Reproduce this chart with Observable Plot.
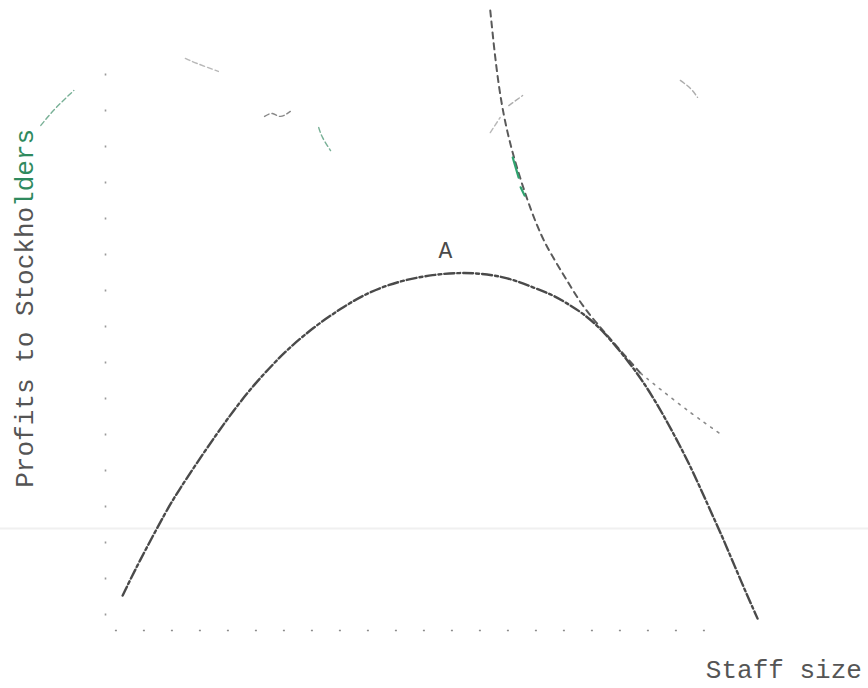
<!DOCTYPE html>
<html>
<head>
<meta charset="utf-8">
<script src="https://cdn.jsdelivr.net/npm/d3@7"></script>
<script src="https://cdn.jsdelivr.net/npm/@observablehq/plot@0.6"></script>
<style>
  html, body { margin: 0; padding: 0; background: #ffffff; }
  #chart svg { display: block; }
</style>
</head>
<body>
<div id="chart"></div>
<script>
// Profit curve (staff size vs profits to stockholders)
const profitStaff = [2.6, 4.8, 9.4, 11.1, 13.9, 16.7, 19.4, 22.4, 25.5, 27.7, 31.5, 35.6, 39.7, 44.7, 49.7, 53.8, 56.8, 60.9, 64.8, 67.9, 69.7, 72.4, 75.5, 79.5, 82.6, 86.1, 89.1, 92.1, 93.2, 96.7, 98.8];
const profitValue = [9.7, 18.1, 33.9, 38.9, 46.7, 54.2, 61.1, 68.1, 74.2, 78.3, 84.2, 89.4, 93.9, 97.2, 98.9, 99.4, 99.2, 98.1, 95.3, 93.1, 91.1, 88.1, 83.1, 74.2, 66.1, 54.7, 43.9, 31.4, 27.2, 11.9, 3.3];

// Tangent (indifference) curve; the part after the tangency is fainter
const tangentStaff = [58.3, 59.7, 62.0, 65.5, 67.9, 70.2, 72.4, 75.5, 78.0, 81.1];
const tangentValue = [172.2, 147.2, 129.7, 111.1, 103.3, 96.4, 89.7, 83.1, 77.8, 71.4];
const tailStaff    = [81.1, 86.7, 90.9, 93.5];
const tailValue    = [71.4, 63.1, 57.5, 54.2];

// green-tinted pieces of the tangent curve
const greenStaff   = [61.7, 62.6];
const greenValue   = [131.4, 125.8];
const green2Staff  = [62.9, 63.5];
const green2Value  = [123.1, 120.8];

// faint remnants of other strokes in the scan
const fragments = [
  {id: "f1", color: "#3f8f6a", staff: [-9.8, -7.6, -4.8], value: [140.3, 145.0, 150.0]},
  {id: "f2", color: "#9a9a9a", staff: [12.1, 13.9, 17.1], value: [158.9, 157.5, 155.3]},
  {id: "f3", color: "#555555", staff: [24.1, 25.3, 26.5, 28.0], value: [142.8, 143.6, 142.8, 144.2]},
  {id: "f4", color: "#3f8f6a", staff: [32.3, 32.9, 34.1], value: [139.7, 136.9, 133.3]},
  {id: "f5", color: "#8a8a8a", staff: [87.1, 88.6, 89.7], value: [152.8, 150.6, 148.1]},
  {id: "f6", color: "#8a8a8a", staff: [61.1, 63.2], value: [145.8, 148.6]},
  {id: "f7", color: "#9a9a9a", staff: [58.3, 59.8], value: [138.3, 142.5]}
];

// text
const peakLabel = "A";
const xLabel = "Staff size";
const yLabel = "Profits to Stockholders";

const zip = (xs, ys) => xs.map((x, i) => ({x, y: ys[i]}));
const profit = zip(profitStaff, profitValue);
const tangent = zip(tangentStaff, tangentValue);
const tail = zip(tailStaff, tailValue);
const fragRows = fragments.flatMap(f => f.staff.map((x, i) => ({id: f.id, color: f.color, x, y: f.value[i]})));

const font = "'Liberation Mono', 'DejaVu Sans Mono', monospace";

const chart = Plot.plot({
  width: 868,
  height: 688,
  margin: 0,
  style: {background: "#ffffff", fontFamily: font},
  x: {domain: [0, 100], range: [105, 765], axis: null},
  y: {domain: [0, 100], range: [630, 270], axis: null},
  marks: [
    // scan streak
    Plot.ruleY([28.3], {stroke: "#f0f0f0", strokeWidth: 2}),
    // dotted axes
    Plot.ruleX([0], {y1: 4, y2: 158, stroke: "#777", strokeWidth: 1.6, strokeDasharray: "2,34", strokeOpacity: 0.75}),
    Plot.ruleY([0], {x1: 1.5, x2: 92, stroke: "#666", strokeWidth: 1.6, strokeDasharray: "2,26", strokeOpacity: 0.75}),
    // fragments
    Plot.line(fragRows, {x: "x", y: "y", z: "id", stroke: "color", strokeWidth: 1.4, strokeOpacity: 0.7, curve: "natural", strokeDasharray: "5,3"}),
    // tangent curve
    Plot.line(tangent, {x: "x", y: "y", curve: "basis", stroke: "#5a5a5a", strokeWidth: 2, strokeDasharray: "6,5"}),
    Plot.line(tail, {x: "x", y: "y", curve: "basis", stroke: "#8a8a8a", strokeWidth: 1.6, strokeDasharray: "2,6"}),
    Plot.line(zip(greenStaff, greenValue), {x: "x", y: "y", stroke: "#2fa36f", strokeWidth: 2.2}),
    Plot.line(zip(green2Staff, green2Value), {x: "x", y: "y", stroke: "#2fa36f", strokeWidth: 2.2}),
    // profit curve
    Plot.line(profit, {x: "x", y: "y", curve: "basis", stroke: "#4a4a4a", strokeWidth: 2.4, strokeDasharray: "10,3,3,3"}),
    // labels
    Plot.text([peakLabel], {x: 51.5, y: 105.5, text: d => d, fontSize: 23, fill: "#4a4a4a", fontFamily: font}),
    Plot.text([xLabel], {x: 114.6, y: -10.8, text: d => d, textAnchor: "end", fontSize: 26, fill: "#555", fontFamily: font}),
    Plot.text([yLabel], {x: -12.3, y: 89.5, text: d => d, rotate: -90, fontSize: 26, fill: "#555", fontFamily: font, className: "ylab"})
  ]
});

document.getElementById("chart").appendChild(chart);

// colour the faded-green tail of the y label like the scan
d3.select(chart).selectAll("g.ylab text").each(function() {
  const t = d3.select(this);
  const s = t.text();
  const cut = s.length - 5;
  t.text(null);
  t.append("tspan").text(s.slice(0, cut));
  t.append("tspan").attr("fill", "#2f8a5e").text(s.slice(cut));
});
</script>
</body>
</html>
